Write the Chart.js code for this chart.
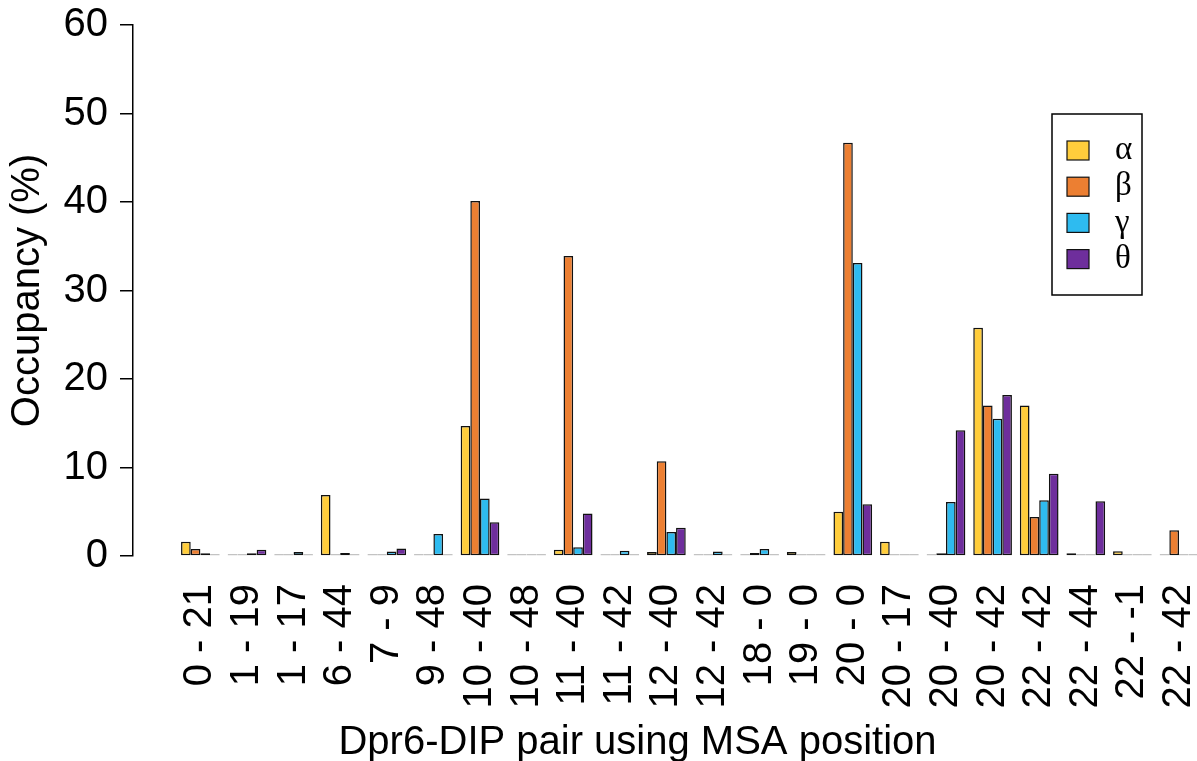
<!DOCTYPE html>
<html>
<head>
<meta charset="utf-8">
<script src="https://cdn.jsdelivr.net/npm/chart.js@4/dist/chart.umd.min.js"></script>
<style>
  html, body { margin: 0; padding: 0; background: #fff; overflow: hidden; }
  #wrap { width: 1197px; height: 761px; }
</style>
</head>
<body>
<div id="wrap"><canvas id="chart"></canvas></div>
<script>
// Dpr6-DIP pairs (MSA positions)
const pairs = ["0 - 21", "1 - 19", "1 - 17", "6 - 44", "7 - 9", "9 - 48", "10 - 40", "10 - 48",
  "11 - 40", "11 - 42", "12 - 40", "12 - 42", "18 - 0", "19 - 0", "20 - 0", "20 - 17",
  "20 - 40", "20 - 42", "22 - 42", "22 - 44", "22 - -1", "22 - 42"];

// occupancy (%) per DIP
const alpha = [1.6, 0, 0, 6.9, 0, 0, 14.7, 0, 0.7, 0, 0.45, 0, 0.1, 0.45, 5.0, 1.6, 0, 25.8, 17.0, 0.3, 0.55, 0];
const beta  = [0.8, 0, 0, 0, 0, 0, 40.1, 0, 33.9, 0, 10.7, 0, 0.35, 0, 46.7, 0, 0.3, 17.0, 4.4, 0, 0, 2.9];
const gamma = [0.3, 0.3, 0.45, 0.35, 0.5, 2.5, 6.5, 0.1, 1.0, 0.6, 2.7, 0.5, 0.8, 0, 33.1, 0, 6.1, 15.5, 6.3, 0, 0, 0];
const theta = [0, 0.7, 0, 0, 0.85, 0, 3.8, 0, 4.8, 0, 3.2, 0, 0.15, 0, 5.85, 0, 14.2, 18.2, 9.3, 6.2, 0, 0];

const yTicks = [0, 10, 20, 30, 40, 50, 60];

const seriesNames = ["α", "β", "γ", "θ"];
const seriesColors = ["#FFCD3C", "#EC7F32", "#2EBBF0", "#6E2E9C"];
const seriesValues = [alpha, beta, gamma, theta];

const SANS = "'Liberation Sans', Arial, sans-serif";

// legend box in the upper right, R style
const boxLegend = {
  id: 'boxLegend',
  afterDraw(chart) {
    const ctx = chart.ctx;
    const right = chart.chartArea.right;
    const x0 = right - 90, y0 = 114, w = 90, h = 181;
    ctx.save();
    ctx.strokeStyle = '#000';
    ctx.lineWidth = 1.5;
    ctx.strokeRect(x0, y0, w, h);
    chart.data.datasets.forEach((ds, i) => {
      const cy = 150.5 + i * 36.2;
      ctx.fillStyle = ds.backgroundColor;
      ctx.fillRect(x0 + 15, cy - 9.5, 22, 19);
      ctx.strokeStyle = '#111';
      ctx.lineWidth = 1.2;
      ctx.strokeRect(x0 + 15, cy - 9.5, 22, 19);
      ctx.fillStyle = '#000';
      ctx.font = "33px 'Liberation Serif', 'Times New Roman', serif";
      ctx.textAlign = 'left';
      ctx.textBaseline = 'middle';
      ctx.fillText(ds.label, x0 + 63, cy);
    });
    ctx.restore();
  }
};

const ctx = document.getElementById('chart').getContext('2d');
const chart = new Chart(ctx, {
  type: 'bar',
  data: {
    datasets: seriesNames.map((name, s) => ({
      label: name,
      data: seriesValues[s].map((v, i) => ({ x: i, y: v })),
      backgroundColor: seriesColors[s],
      borderColor: '#111',
      borderWidth: 1.5,
      borderSkipped: false,
      minBarLength: 1.5,
      categoryPercentage: 0.83,
      barPercentage: 1.0,
      clip: false
    }))
  },
  plugins: [boxLegend],
  options: {
    responsive: true,
    maintainAspectRatio: false,
    animation: false,
    layout: { padding: { top: 25, right: 55, left: 0, bottom: 0 } },
    plugins: {
      legend: { display: false },
      tooltip: { enabled: false }
    },
    scales: {
      x: {
        type: 'linear',
        offset: false,
        min: -1.446,
        max: 20.206,
        grid: { display: false, drawTicks: false },
        border: { display: false },
        afterBuildTicks: (axis) => {
          axis.ticks = pairs.map((p, i) => ({ value: i }));
        },
        afterFit: (scale) => {
          scale.height = 205;
          scale.paddingLeft = 0;
          scale.paddingRight = 0;
        },
        ticks: {
          autoSkip: false,
          minRotation: 90,
          maxRotation: 90,
          padding: 28,
          color: '#000',
          font: { family: SANS, size: 40 },
          callback: (v) => pairs[v]
        },
        title: {
          display: true,
          text: 'Dpr6-DIP pair using MSA position',
          color: '#000',
          font: { family: SANS, size: 40, lineHeight: 0.9 },
          padding: { top: 0, bottom: 0 }
        }
      },
      y: {
        min: 0,
        max: 60,
        afterBuildTicks: (axis) => {
          axis.ticks = yTicks.map(v => ({ value: v }));
        },
        afterFit: (scale) => {
          scale.width = 133;
          scale.paddingTop = 0;
          scale.paddingBottom = 0;
        },
        grid: {
          drawOnChartArea: false,
          drawTicks: true,
          tickLength: 13,
          color: '#000',
          lineWidth: 1.5
        },
        border: { display: true, color: '#000', width: 1.5 },
        ticks: {
          padding: 12,
          color: '#000',
          font: { family: SANS, size: 40 }
        },
        title: {
          display: true,
          text: 'Occupancy (%)',
          color: '#000',
          font: { family: SANS, size: 40 },
          padding: { top: 4, bottom: 0 }
        }
      }
    }
  }
});
</script>
</body>
</html>
